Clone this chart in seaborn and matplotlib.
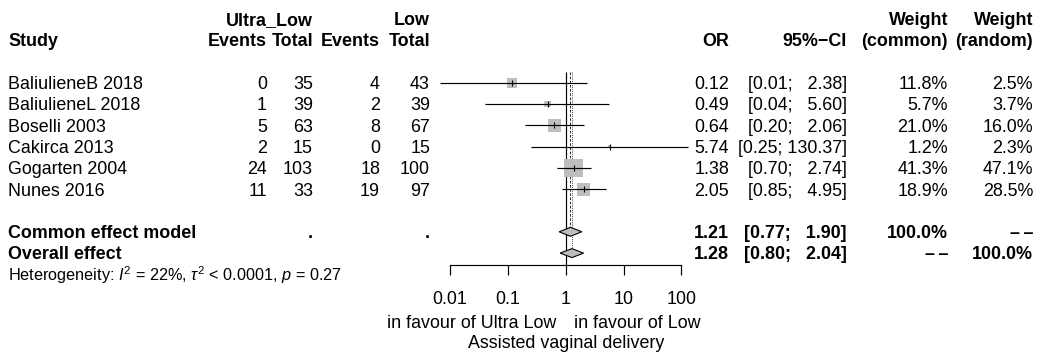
import numpy as np
import pandas as pd
import matplotlib
matplotlib.use("Agg")
import matplotlib.pyplot as plt
import seaborn as sns
from matplotlib.transforms import blended_transform_factory
from matplotlib.ticker import NullLocator, FixedLocator, FixedFormatter

# ---------------- data ----------------
studies = ["BaliulieneB 2018", "BaliulieneL 2018", "Boselli 2003",
           "Cakirca 2013", "Gogarten 2004", "Nunes 2016"]
ev_ultra = [0, 1, 5, 2, 24, 11]
n_ultra = [35, 39, 63, 15, 103, 33]
ev_low = [4, 2, 8, 0, 18, 19]
n_low = [43, 39, 67, 15, 100, 97]
odds = [0.12, 0.49, 0.64, 5.74, 1.38, 2.05]
ci_low = [0.0066, 0.04, 0.20, 0.25, 0.70, 0.85]
ci_high = [2.38, 5.60, 2.06, 130.37, 2.74, 4.95]
w_common = [11.8, 5.7, 21.0, 1.2, 41.3, 18.9]
w_random = [2.5, 3.7, 16.0, 2.3, 47.1, 28.5]

pooled_names = ["Common effect model", "Overall effect"]
pooled_or = [1.21, 1.28]
pooled_lo = [0.77, 0.80]
pooled_hi = [1.90, 2.04]
pooled_wc = ["100.0%", "\u2013\u2009\u2013"]
pooled_wr = ["\u2013\u2009\u2013", "100.0%"]

tick_vals = [0.01, 0.1, 1, 10, 100]
tick_labels = ["0.01", "0.1", "1", "10", "100"]
label_left = "in favour of Ultra Low"
label_right = "in favour of Low"
xlab = "Assisted vaginal delivery"
hetstat = r"Heterogeneity: $\mathit{I}^2$ = 22%, $\tau^2$ < 0.0001, $\mathit{p}$ = 0.27"

# ---------------- style ----------------
sns.set_theme(style="white")
plt.rcParams["font.family"] = ["Liberation Sans", "DejaVu Sans"]
plt.rcParams["mathtext.fontset"] = "custom"
plt.rcParams["mathtext.rm"] = "Liberation Sans"
plt.rcParams["mathtext.it"] = "Liberation Sans:italic"
plt.rcParams["mathtext.bf"] = "Liberation Sans:bold"

W, H = 1045, 352
FS = 12.9
FS_HET = 11.7
GREY = "#BEBEBE"

fig = plt.figure(figsize=(W / 100, H / 100), dpi=100)
ax = fig.add_axes([0, 0, 1, 1])

# x: log scale, 1 at pixel X1, PX pixels per decade
X1, PX = 565.7, 57.8
ax.set_xscale("log")
ax.set_xlim(10 ** ((0 - X1) / PX), 10 ** ((W - X1) / PX))
# y: rows, row 0 at pixel ROW0, RH pixels per row
ROW0, RH = 40.1, 21.3
ax.set_ylim((H - ROW0) / RH, -ROW0 / RH)


def row(px):
    return (px - ROW0) / RH


trans = blended_transform_factory(fig.transFigure, ax.transData)


def txt(xpx, r, s, ha="right", bold=False, size=FS):
    ax.text(xpx / W, r + 0.30, s, transform=trans, ha=ha, va="baseline",
            fontsize=size, fontweight="bold" if bold else "normal", color="black")


# columns (right edges, px)
C_STUDY = 8
C_E1, C_T1, C_E2, C_T2 = 267, 313, 380, 430
C_OR, C_CI, C_WC, C_WR = 729, 847, 948, 1033

# headers
txt(C_T1, -1, "Ultra_Low", bold=True)
txt(C_T2, -1, "Low", bold=True)
txt(C_WC, -1, "Weight", bold=True)
txt(C_WR, -1, "Weight", bold=True)
txt(C_STUDY, 0, "Study", ha="left", bold=True)
txt(C_E1, 0, "Events", bold=True)
txt(C_T1, 0, "Total", bold=True)
txt(C_E2, 0, "Events", bold=True)
txt(C_T2, 0, "Total", bold=True)
txt(C_OR, 0, "OR", bold=True)
txt(C_CI, 0, "95%\u2212CI", bold=True)
txt(C_WC, 0, "(common)", bold=True)
txt(C_WR, 0, "(random)", bold=True)

study_rows = np.arange(2, 2 + len(studies))
for i, r in enumerate(study_rows):
    txt(C_STUDY, r, studies[i], ha="left")
    txt(C_E1, r, str(ev_ultra[i]))
    txt(C_T1, r, str(n_ultra[i]))
    txt(C_E2, r, str(ev_low[i]))
    txt(C_T2, r, str(n_low[i]))
    txt(C_OR, r, f"{odds[i]:.2f}")
    txt(C_CI, r, f"[{ci_low[i]:.2f}; {ci_high[i]:6.2f}]")
    txt(C_WC, r, f"{w_common[i]:.1f}%")
    txt(C_WR, r, f"{w_random[i]:.1f}%")

pooled_rows = [study_rows[-1] + 2, study_rows[-1] + 3]
for j, r in enumerate(pooled_rows):
    txt(C_STUDY, r, pooled_names[j], ha="left", bold=True)
    txt(C_OR, r, f"{pooled_or[j]:.2f}", bold=True)
    txt(C_CI, r, f"[{pooled_lo[j]:.2f}; {pooled_hi[j]:6.2f}]", bold=True)
    txt(C_WC, r, pooled_wc[j], bold=True)
    txt(C_WR, r, pooled_wr[j], bold=True)
txt(C_T1, pooled_rows[0], ".", bold=True)
txt(C_T2, pooled_rows[0], ".", bold=True)
txt(C_STUDY, pooled_rows[1] + 1, hetstat, ha="left", size=FS_HET)

# ---------------- forest marks ----------------
df = pd.DataFrame({"study": studies, "OR": odds, "lo": ci_low, "hi": ci_high,
                   "w": w_common, "row": study_rows})

# squares (area proportional to common-effect weight)
sns.scatterplot(data=df, x="OR", y="row", size="w", sizes=(0, 436), size_norm=(0, 100),
                marker="s", color=GREY, edgecolor="none", linewidth=0, legend=False,
                ax=ax, zorder=2)
# CI lines
ax.hlines(df["row"], df["lo"], df["hi"], color="black", lw=0.85, zorder=3)
# point ticks
ax.scatter(df["OR"], df["row"], marker="|", s=14, color="black", linewidths=0.8, zorder=4)

# reference and pooled lines
top = row(71.7)
axis_y = row(265)
ax.vlines(1, top, axis_y, color="black", lw=0.85, zorder=1)
ax.vlines(pooled_or[0], top, pooled_rows[0] - 0.2, color="black", lw=0.6,
          linestyles=(0, (3, 2)), zorder=1)
ax.vlines(pooled_or[1], top, pooled_rows[1] - 0.2, color="black", lw=0.6,
          linestyles=(0, (1, 1.5)), zorder=1)

# diamonds
hh = 0.21
for j, r in enumerate(pooled_rows):
    ax.fill([pooled_lo[j], pooled_or[j], pooled_hi[j], pooled_or[j]],
            [r, r - hh, r, r + hh], facecolor=GREY, edgecolor="black", lw=0.8, zorder=5)

# x axis
for s in ["top", "left", "right"]:
    ax.spines[s].set_visible(False)
ax.spines["bottom"].set_position(("data", axis_y))
ax.spines["bottom"].set_bounds(tick_vals[0], tick_vals[-1])
ax.spines["bottom"].set_color("black")
ax.spines["bottom"].set_linewidth(0.85)
ax.xaxis.set_major_locator(FixedLocator(tick_vals))
ax.xaxis.set_major_formatter(FixedFormatter(tick_labels))
ax.xaxis.set_minor_locator(NullLocator())
ax.tick_params(axis="x", direction="out", length=7.2, width=0.85, color="black",
               pad=11.5, labelsize=FS, labelcolor="black", bottom=True)
ax.set_yticks([])
ax.set_xlabel("")
ax.set_ylabel("")
ax.grid(False)

# labels under axis
def ftxt(xdata, r, s, ha):
    ax.text(xdata, r + 0.30, s, ha=ha, va="baseline", fontsize=FS, color="black")

ftxt(10 ** ((556 - X1) / PX), row(322), label_left, "right")
ftxt(10 ** ((574 - X1) / PX), row(322), label_right, "left")
ftxt(1, row(342), xlab, "center")

fig.savefig("out.png", dpi=100, facecolor="white")
